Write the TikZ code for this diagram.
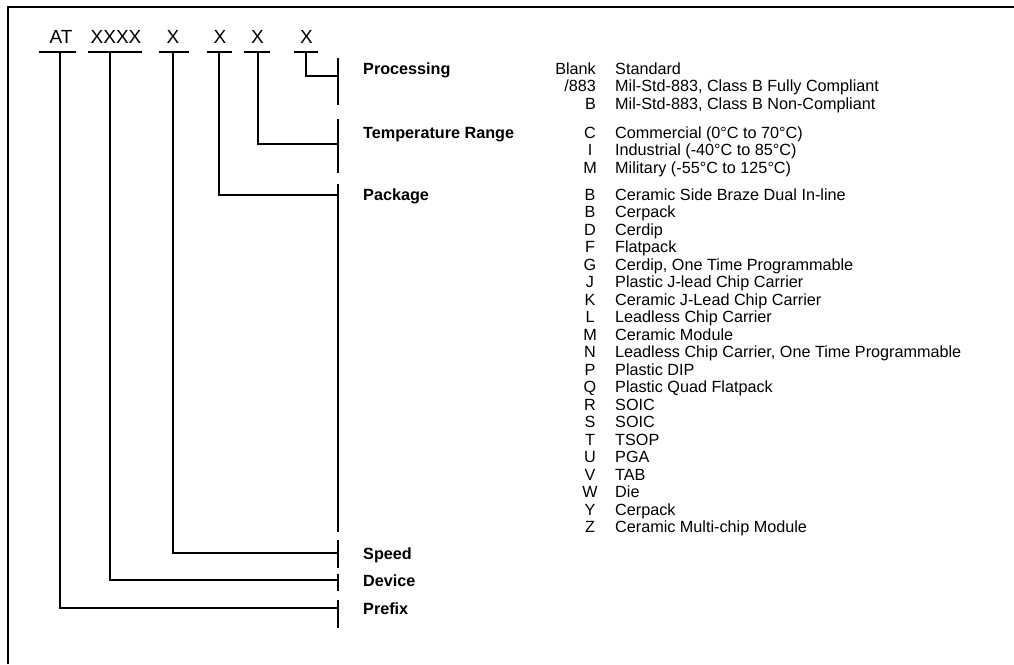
\documentclass[tikz,border=0pt]{standalone}
\usepackage{fontspec}
\setmainfont{Liberation Sans}
\usetikzlibrary{positioning}

\begin{document}
\begin{tikzpicture}[x=1pt,y=-1pt,
 code/.style={anchor=base,inner sep=0pt,font=\fontsize{19}{21}\selectfont},
 field/.style={anchor=base west,inner sep=0pt,font=\fontsize{16.2}{18}\selectfont\bfseries},
 key/.style={anchor=base,inner sep=0pt,font=\fontsize{16.2}{18}\selectfont},
 desc/.style={anchor=base west,inner sep=0pt,font=\fontsize{16.2}{18}\selectfont},
 rail/.style={line width=2pt}]
\useasboundingbox (0,0) rectangle (1014,664);
\draw[line width=1.5pt] (8,664) -- (8,7) -- (1014,7);

% ordering code
\node[code] (at) at (61,43) {AT};
\node[code] (dev) at (116,43) {XXXX};
\node[code] (spd) at (173,43) {X};
\node[code] (pkg) at (220,43) {X};
\node[code] (tmp) at (257.5,43) {X};
\node[code] (prc) at (306.5,43) {X};
\foreach \a/\b in {39/76,88/142,159/189,207/232,244/270,294/318}
 \draw[rail] (\a,52) -- (\b,52);
\coordinate (at-b) at (60,52);
\coordinate (dev-b) at (110,52);
\coordinate (spd-b) at (173,52);
\coordinate (pkg-b) at (219,52);
\coordinate (tmp-b) at (258,52);
\coordinate (prc-b) at (306,52);

% ticks on the rail
\coordinate (prc-t) at (338,76);
\coordinate (tmp-t) at (338,144);
\coordinate (pkg-t) at (338,195);
\coordinate (spd-t) at (338,553);
\coordinate (dev-t) at (338,580);
\coordinate (at-t) at (338,608);
\foreach \a/\b in {58/105,119/173,184/532,540/568,574/591,600/628}
 \draw[rail] (338,\a) -- (338,\b);
\foreach \n in {prc,tmp,pkg,spd,dev,at}
 \draw[rail] (\n-b) |- (\n-t);

% fields
\node[field] (lprc) at (363,74) {Processing};
\node[field] (ltmp) at (363,138) {Temperature Range};
\node[field] (lpkg) at (363,200) {Package};
\node[field] (lspd) at (363,559) {Speed};
\node[field] (ldev) at (363,586) {Device};
\node[field] (lat) at (363,614) {Prefix};

% options
\node[key,anchor=base east] (pr0) at (596,74) {Blank};
\node[key,anchor=base east] (pr1) at (596,91.5) {/883};
\node[key,anchor=base east] (pr2) at (596,109) {B};
\node[desc] (prd0) at (615,74) {Standard};
\node[desc] (prd1) at (615,91.5) {Mil-Std-883, Class B Fully Compliant};
\node[desc] (prd2) at (615,109) {Mil-Std-883, Class B Non-Compliant};
\foreach \k/\d [count=\i from 0] in {C/Commercial (0°C to 70°C),I/Industrial (-40°C to 85°C),M/Military (-55°C to 125°C)}{
 \node[key] (tm\i) at (590,138+17.5*\i) {\k};
 \node[desc] (tmd\i) at (615,138+17.5*\i) {\d};
}
\foreach \k/\d [count=\i from 0] in {B/Ceramic Side Braze Dual In-line,B/Cerpack,D/Cerdip,F/Flatpack,G/{Cerdip, One Time Programmable},J/Plastic J-lead Chip Carrier,K/Ceramic J-Lead Chip Carrier,L/Leadless Chip Carrier,M/Ceramic Module,N/{Leadless Chip Carrier, One Time Programmable},P/Plastic DIP,Q/Plastic Quad Flatpack,R/SOIC,S/SOIC,T/TSOP,U/PGA,V/TAB,W/Die,Y/Cerpack,Z/Ceramic Multi-chip Module}{
 \node[key] (pk\i) at (590,200+17.5*\i) {\k};
 \node[desc] (pkd\i) at (615,200+17.5*\i) {\d};
}
\end{tikzpicture}
\end{document}
